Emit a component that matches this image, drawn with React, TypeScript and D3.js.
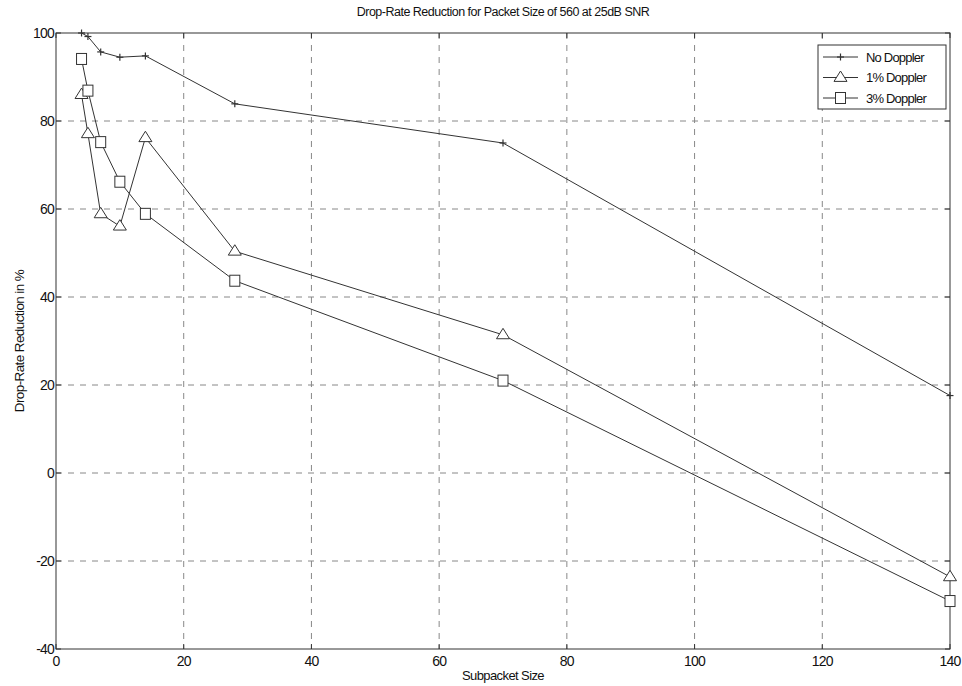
import React from "react";
import * as d3 from "d3";

const xValues = [4, 5, 7, 10, 14, 28, 70, 140];
const noDoppler = [100, 99.2, 95.7, 94.5, 94.8, 83.9, 75, 17.6];
const doppler1 = [86, 77.1, 58.9, 56.1, 76.2, 50.4, 31.4, -23.6];
const doppler3 = [94.1, 86.9, 75.2, 66.2, 58.9, 43.7, 21, -29.1];
const xTicks = [0, 20, 40, 60, 80, 100, 120, 140];
const yTicks = [-40, -20, 0, 20, 40, 60, 80, 100];
const seriesNames = ["No Doppler", "1% Doppler", "3% Doppler"];

const W = 962, H = 686;
const L = 56, R = 950, T = 33, B = 649;
const FONT = "'Liberation Sans', Arial, sans-serif";
const INK = "#333";

function Marker({ kind, x, y }: { kind: number; x: number; y: number }) {
  if (kind === 0) {
    return (
      <g stroke={INK} strokeWidth={1.2}>
        <line x1={x - 3.5} x2={x + 3.5} y1={y} y2={y} />
        <line x1={x} x2={x} y1={y - 3.5} y2={y + 3.5} />
      </g>
    );
  }
  if (kind === 1) {
    const s = 6.5;
    return (
      <path
        d={`M${x},${y - s} L${x + s},${y + s * 0.6} L${x - s},${y + s * 0.6} Z`}
        fill="white"
        stroke={INK}
        strokeWidth={1}
      />
    );
  }
  return <rect x={x - 5} y={y - 5.5} width={10} height={11} fill="white" stroke={INK} strokeWidth={1} />;
}

export default function App() {
  const x = d3.scaleLinear().domain([0, 140]).range([L, R]);
  const y = d3.scaleLinear().domain([-40, 100]).range([B, T]);
  const series = [noDoppler, doppler1, doppler3];
  const line = d3
    .line<number>()
    .x((_, i) => x(xValues[i]))
    .y((d) => y(d));

  return (
    <svg width={W} height={H} style={{ position: "absolute", left: 0, top: 0, background: "white" }}>
      <rect x={0} y={0} width={W} height={H} fill="white" />
      {xTicks.slice(1, -1).map((t) => (
        <line key={"gx" + t} x1={x(t)} x2={x(t)} y1={T} y2={B} stroke="#888" strokeWidth={1} strokeDasharray="6,6" />
      ))}
      {yTicks.slice(1, -1).map((t) => (
        <line key={"gy" + t} x1={L} x2={R} y1={y(t)} y2={y(t)} stroke="#888" strokeWidth={1} strokeDasharray="6,6" />
      ))}
      <rect x={L} y={T} width={R - L} height={B - T} fill="none" stroke={INK} strokeWidth={1} />
      {xTicks.map((t) => (
        <g key={"tx" + t}>
          <line x1={x(t)} x2={x(t)} y1={B} y2={B - 5} stroke={INK} />
          <line x1={x(t)} x2={x(t)} y1={T} y2={T + 5} stroke={INK} />
          <text x={x(t)} y={B + 17} textAnchor="middle" fontFamily={FONT} fontSize={14} fill="#111" letterSpacing={-0.8}>
            {t}
          </text>
        </g>
      ))}
      {yTicks.map((t) => (
        <g key={"ty" + t}>
          <line x1={L} x2={L + 5} y1={y(t)} y2={y(t)} stroke={INK} />
          <line x1={R} x2={R - 5} y1={y(t)} y2={y(t)} stroke={INK} />
          <text x={L - 2} y={y(t) + 5} textAnchor="end" fontFamily={FONT} fontSize={14} fill="#111" letterSpacing={-0.8}>
            {t}
          </text>
        </g>
      ))}
      {series.map((s, k) => (
        <g key={"s" + k}>
          <path d={line(s) || ""} fill="none" stroke={INK} strokeWidth={1} />
          {s.map((v, i) => (
            <Marker key={i} kind={k} x={x(xValues[i])} y={y(v)} />
          ))}
        </g>
      ))}
      <rect x={818} y={45} width={128} height={64} fill="white" stroke={INK} strokeWidth={1} />
      {seriesNames.map((n, k) => {
        const ly = 57 + k * 20.5;
        return (
          <g key={"l" + k}>
            <line x1={823} x2={858} y1={ly} y2={ly} stroke={INK} />
            <Marker kind={k} x={840.5} y={ly} />
            <text x={866} y={ly + 4.5} fontFamily={FONT} fontSize={13} fill="#111" letterSpacing={-0.8}>
              {n}
            </text>
          </g>
        );
      })}
      <text x={503} y={16} textAnchor="middle" fontFamily={FONT} fontSize={12.5} fill="#111" letterSpacing={-0.5}>
        Drop-Rate Reduction for Packet Size of 560 at 25dB SNR
      </text>
      <text x={503} y={680} textAnchor="middle" fontFamily={FONT} fontSize={13} fill="#111" letterSpacing={-0.6}>
        Subpacket Size
      </text>
      <text
        transform={`translate(24,${(T + B) / 2}) rotate(-90)`}
        textAnchor="middle"
        fontFamily={FONT}
        fontSize={13.5}
        fill="#111"
        letterSpacing={-0.6}
      >
        Drop-Rate Reduction in %
      </text>
    </svg>
  );
}
